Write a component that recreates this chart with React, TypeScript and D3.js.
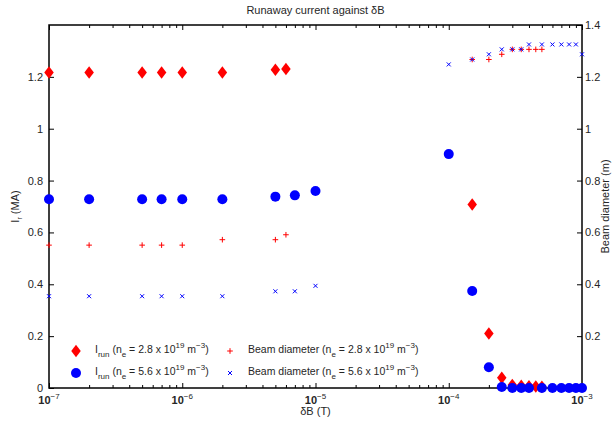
import React, { useEffect, useRef } from "react";
import * as d3 from "d3";

// dB values (T) for each density run
const dB28 = [1e-7, 2e-7, 5e-7, 7e-7, 1e-6, 2e-6, 5e-6, 6e-6, 1.5e-4, 2e-4, 2.5e-4, 3e-4, 3.5e-4, 4e-4, 4.5e-4, 5e-4];
const dB56 = [1e-7, 2e-7, 5e-7, 7e-7, 1e-6, 2e-6, 5e-6, 7e-6, 1e-5, 1e-4, 1.5e-4, 2e-4, 2.5e-4, 3e-4, 3.5e-4, 4e-4, 5e-4, 6e-4, 7e-4, 8e-4, 9e-4, 1e-3];

// runaway current (MA), left axis
const irun28 = [1.217, 1.217, 1.217, 1.217, 1.217, 1.217, 1.227, 1.23, 0.708, 0.21, 0.04, 0.012, 0.009, 0.007, 0.006, 0.005];
const irun56 = [0.728, 0.728, 0.728, 0.728, 0.728, 0.728, 0.738, 0.743, 0.76, 0.902, 0.374, 0.08, 0.004, 0, 0, 0, 0, 0, 0, 0, 0, 0];

// beam diameter (m), right axis
const beam28 = [0.551, 0.551, 0.551, 0.551, 0.551, 0.572, 0.572, 0.591, 1.267, 1.267, 1.287, 1.306, 1.306, 1.306, 1.306, 1.306];
const beam56 = [0.354, 0.354, 0.354, 0.354, 0.354, 0.354, 0.373, 0.373, 0.394, 1.248, 1.267, 1.287, 1.306, 1.306, 1.306, 1.325, 1.325, 1.325, 1.325, 1.325, 1.325, 1.287];

const leftTicks = [0, 0.2, 0.4, 0.6, 0.8, 1, 1.2];
const rightTicks = [0.2, 0.4, 0.6, 0.8, 1, 1.2, 1.4];
const majorExps = [-7, -6, -5, -4, -3];

const FONT = "'Liberation Sans', Arial, Helvetica, sans-serif";
const RED = "#ff0000";
const BLUE = "#0000ff";

function diamond(cx: number, cy: number, w: number, h: number) {
  return `M${cx},${cy - h / 2}L${cx + w / 2},${cy}L${cx},${cy + h / 2}L${cx - w / 2},${cy}Z`;
}
function plus(cx: number, cy: number, s: number) {
  return `M${cx - s},${cy}L${cx + s},${cy}M${cx},${cy - s}L${cx},${cy + s}`;
}
function cross(cx: number, cy: number, s: number) {
  return `M${cx - s},${cy - s}L${cx + s},${cy + s}M${cx - s},${cy + s}L${cx + s},${cy - s}`;
}

export default function App() {
  const ref = useRef<SVGSVGElement>(null);

  useEffect(() => {
    const svg = d3.select(ref.current);
    svg.selectAll("*").remove();

    const margin = { top: 25, right: 31, bottom: 37, left: 49 };
    const W = 613, H = 425;
    const x = d3.scaleLog().domain([1e-7, 1e-3]).range([margin.left, W - margin.right]);
    const yL = d3.scaleLinear().domain([0, 1.4]).range([H - margin.bottom, margin.top]);
    const yR = d3.scaleLinear().domain([0, 1.4]).range([H - margin.bottom, margin.top]);
    const x0 = margin.left, x1 = W - margin.right, y0 = H - margin.bottom, y1 = margin.top;

    const ink = "#000";
    const txt = "#262626";

    // minor + major ticks along log axis
    const minors: number[] = [];
    for (let e = -7; e < -3; e++) for (let m = 2; m <= 9; m++) minors.push(m * Math.pow(10, e));
    const majors = majorExps.map(e => Math.pow(10, e));

    const bottom = svg.append("g").attr("transform", `translate(0,${y0})`)
      .call(d3.axisBottom(x).tickValues(majors).tickSizeInner(-5).tickSizeOuter(0).tickFormat(() => ""));
    bottom.append("g").call(d3.axisBottom(x).tickValues(minors).tickSizeInner(-3).tickSizeOuter(0).tickFormat(() => ""));
    const top = svg.append("g").attr("transform", `translate(0,${y1})`)
      .call(d3.axisTop(x).tickValues(majors).tickSizeInner(-5).tickSizeOuter(0).tickFormat(() => ""));
    top.append("g").call(d3.axisTop(x).tickValues(minors).tickSizeInner(-3).tickSizeOuter(0).tickFormat(() => ""));

    svg.append("g").attr("transform", `translate(${x0},0)`)
      .call(d3.axisLeft(yL).tickValues(leftTicks).tickSizeInner(-5).tickSizeOuter(0).tickPadding(6).tickFormat(d3.format("")));
    svg.append("g").attr("transform", `translate(${x1},0)`)
      .call(d3.axisRight(yR).tickValues(rightTicks).tickSizeInner(-5).tickSizeOuter(0).tickPadding(3).tickFormat(d3.format("")));

    svg.selectAll(".domain").remove();
    svg.selectAll(".tick line").attr("stroke", ink).attr("stroke-width", 1);
    svg.selectAll(".tick text").attr("fill", txt).style("font-family", FONT).style("font-size", "11px");

    // box
    svg.append("rect").attr("x", x0).attr("y", y1).attr("width", x1 - x0).attr("height", y0 - y1)
      .attr("fill", "none").attr("stroke", ink).attr("stroke-width", 1.5);

    // x tick labels 10^e
    majorExps.forEach(e => {
      const t = svg.append("text").attr("x", x(Math.pow(10, e))).attr("y", y0 + 16)
        .attr("text-anchor", "middle").attr("fill", txt)
        .style("font-family", FONT).style("font-size", "11px").style("font-weight", "bold");
      t.append("tspan").text("10");
      t.append("tspan").attr("dy", -5).style("font-size", "8px").style("font-weight", "normal").text(`−${-e}`);
    });

    // titles
    svg.append("text").attr("x", (x0 + x1) / 2).attr("y", 14).attr("text-anchor", "middle")
      .attr("fill", txt).style("font-family", FONT).style("font-size", "11px").text("Runaway current against δB");
    svg.append("text").attr("x", (x0 + x1) / 2).attr("y", y0 + 27).attr("text-anchor", "middle")
      .attr("fill", txt).style("font-family", FONT).style("font-size", "11px").text("δB (T)");

    const yl = svg.append("text").attr("transform", `translate(19,${(y0 + y1) / 2}) rotate(-90)`)
      .attr("text-anchor", "middle").attr("fill", txt).style("font-family", FONT).style("font-size", "11px");
    yl.append("tspan").text("I");
    yl.append("tspan").attr("dy", 3).style("font-size", "7px").text("r");
    yl.append("tspan").attr("dy", -3).text(" (MA)");

    svg.append("text").attr("transform", `translate(609,${(y0 + y1) / 2}) rotate(-90)`)
      .attr("text-anchor", "middle").attr("fill", txt).style("font-family", FONT).style("font-size", "11px")
      .text("Beam diameter (m)");

    // markers: left axis first, then right axis on top
    svg.append("g").selectAll("path").data(d3.zip(dB28, irun28)).join("path")
      .attr("d", d => diamond(x(d[0]), yL(d[1]), 9.5, 12.5)).attr("fill", RED);
    svg.append("g").selectAll("circle").data(d3.zip(dB56, irun56)).join("circle")
      .attr("cx", d => x(d[0])).attr("cy", d => yL(d[1])).attr("r", 5).attr("fill", BLUE);
    svg.append("g").selectAll("path").data(d3.zip(dB28, beam28)).join("path")
      .attr("d", d => plus(x(d[0]), yR(d[1]), 2.8)).attr("stroke", RED).attr("stroke-width", 1).attr("fill", "none");
    svg.append("g").selectAll("path").data(d3.zip(dB56, beam56)).join("path")
      .attr("d", d => cross(x(d[0]), yR(d[1]), 2)).attr("stroke", BLUE).attr("stroke-width", 1).attr("fill", "none");

    // legend
    const legend = [
      { mx: 76, tx: 95, y: 351, mark: "diamond", label: "I", sub: "run", ne: "2.8" },
      { mx: 76, tx: 95, y: 373, mark: "circle", label: "I", sub: "run", ne: "5.6" },
      { mx: 230, tx: 248, y: 351, mark: "plus", label: "Beam diameter", sub: "", ne: "2.8" },
      { mx: 230, tx: 248, y: 373, mark: "cross", label: "Beam diameter", sub: "", ne: "5.6" },
    ];
    const lg = svg.append("g");
    legend.forEach(l => {
      if (l.mark === "diamond") lg.append("path").attr("d", diamond(l.mx, l.y, 9.5, 12.5)).attr("fill", RED);
      if (l.mark === "circle") lg.append("circle").attr("cx", l.mx).attr("cy", l.y).attr("r", 5).attr("fill", BLUE);
      if (l.mark === "plus") lg.append("path").attr("d", plus(l.mx, l.y, 2.8)).attr("stroke", RED).attr("fill", "none");
      if (l.mark === "cross") lg.append("path").attr("d", cross(l.mx, l.y, 2)).attr("stroke", BLUE).attr("fill", "none");
      const t = lg.append("text").attr("x", l.tx).attr("y", l.y + 2).attr("fill", txt)
        .style("font-family", FONT).style("font-size", "10.5px");
      t.append("tspan").text(l.label);
      if (l.sub) {
        t.append("tspan").attr("dy", 4).style("font-size", "8px").text(l.sub);
        t.append("tspan").attr("dy", -4).text(" (n");
      } else {
        t.append("tspan").text(" (n");
      }
      t.append("tspan").attr("dy", 4).style("font-size", "8px").text("e");
      t.append("tspan").attr("dy", -4).text(` = ${l.ne} x 10`);
      t.append("tspan").attr("dy", -5).style("font-size", "8px").text("19");
      t.append("tspan").attr("dy", 5).text(" m");
      t.append("tspan").attr("dy", -5).style("font-size", "8px").text("−3");
      t.append("tspan").attr("dy", 5).text(")");
    });
  }, []);

  return (
    <svg ref={ref} width={613} height={425}
      style={{ position: "absolute", left: 0, top: 0, background: "#fff" }} />
  );
}
